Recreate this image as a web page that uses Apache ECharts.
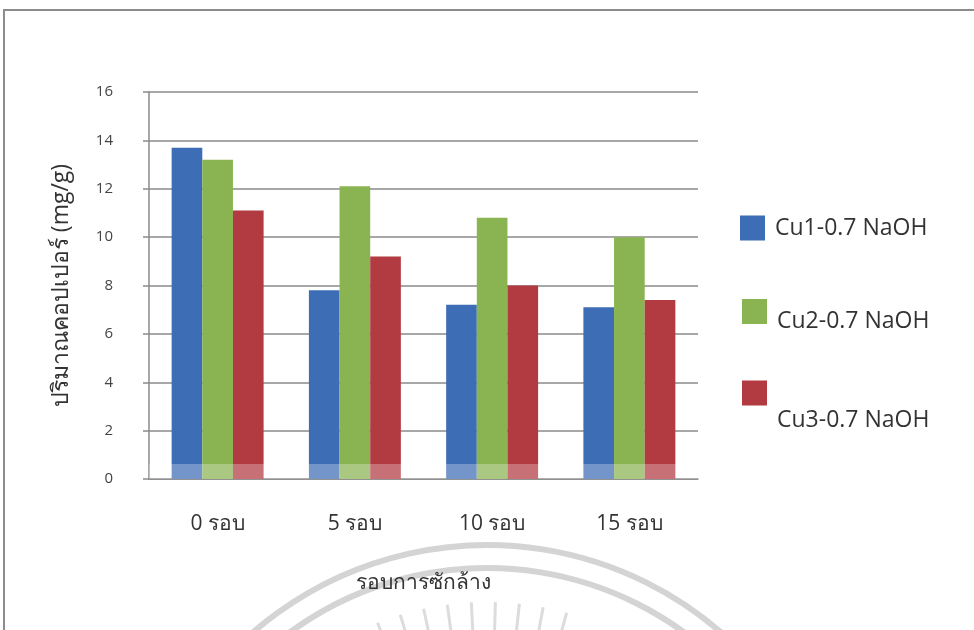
<!DOCTYPE html>
<html>
<head>
<meta charset="utf-8">
<style>
  html, body { margin: 0; padding: 0; background: #ffffff; }
  #chart { width: 974px; height: 630px; }
</style>
<script src="https://cdn.jsdelivr.net/npm/echarts@6/dist/echarts.min.js"></script>
</head>
<body>
<div id="chart"></div>
<script>
// Copper content after repeated washing cycles
const categories = ['0 รอบ', '5 รอบ', '10 รอบ', '15 รอบ'];
const seriesNames = ['Cu1-0.7 NaOH', 'Cu2-0.7 NaOH', 'Cu3-0.7 NaOH'];
const cu1Values = [13.7, 7.8, 7.2, 7.1];
const cu2Values = [13.2, 12.1, 10.8, 10.0];
const cu3Values = [11.1, 9.2, 8.0, 7.4];
const yTicks = { min: 0, max: 16, step: 2 };

const colors = ['#3d6db4', '#8ab351', '#b23a41'];
const valueSets = [cu1Values, cu2Values, cu3Values];

const chart = echarts.init(document.getElementById('chart'), null, { renderer: 'canvas' });

const fontFamily = '"Open Sans", "Noto Sans", "DejaVu Sans", sans-serif';

// Light band along the base of the bars
const baseBand = {
  silent: true,
  z: 10,
  itemStyle: { color: 'rgba(255,255,255,0.28)' },
  data: [[{ yAxis: 0 }, { yAxis: 0.62 }]]
};

const series = seriesNames.map((name, i) => ({
  name: name,
  type: 'bar',
  data: valueSets[i],
  barGap: '0%',
  barCategoryGap: '33%',
  itemStyle: { color: colors[i] },
  markArea: i === 2 ? baseBand : undefined
}));

// Watermark emblem: two concentric arcs and short rays
const cx = 487, cy = 902;
const emblem = [
  { type: 'arc', shape: { cx: cx, cy: cy, r: 357, startAngle: Math.PI * 1.05, endAngle: Math.PI * 1.95 },
    style: { stroke: '#d4d4d4', lineWidth: 6, fill: null }, silent: true, z: -1 },
  { type: 'arc', shape: { cx: cx, cy: cy, r: 334, startAngle: Math.PI * 1.05, endAngle: Math.PI * 1.95 },
    style: { stroke: '#d4d4d4', lineWidth: 6, fill: null }, silent: true, z: -1 }
];
for (let a = -26; a <= 16; a += 4.6) {
  const t = (a - 90) * Math.PI / 180;
  emblem.push({
    type: 'line',
    shape: { x1: cx + 262 * Math.cos(t), y1: cy + 262 * Math.sin(t), x2: cx + 300 * Math.cos(t), y2: cy + 300 * Math.sin(t) },
    style: { stroke: '#dcdcdc', lineWidth: 3 },
    silent: true, z: -1
  });
}

// Each legend entry is its own block; the label sits below its swatch by
// a blank first line whose height sets the drop.
function legendEntry(idx, left, top, drop) {
  return {
    orient: 'vertical',
    data: [seriesNames[idx]],
    left: left,
    top: top,
    itemWidth: 25,
    itemHeight: 25,
    icon: 'rect',
    selectedMode: false,
    formatter: drop > 0 ? (n) => '\n' + n : (n) => n,
    textStyle: {
      fontSize: 23,
      color: '#333333',
      fontFamily: fontFamily,
      lineHeight: drop > 0 ? drop * 2 : 28,
      padding: [0, 0, 0, 5]
    }
  };
}

chart.setOption({
  backgroundColor: '#ffffff',
  animation: false,
  color: colors,
  grid: { left: 149, right: 276, top: 92, bottom: 151, containLabel: false },
  legend: [
    legendEntry(0, 735, 209, 0),
    legendEntry(1, 737, 285, 10),
    legendEntry(2, 737, 334, 27)
  ],
  xAxis: {
    type: 'category',
    data: categories,
    name: 'รอบการซักล้าง',
    nameLocation: 'middle',
    nameGap: 94,
    nameTextStyle: { fontSize: 21, color: '#333333', fontFamily: fontFamily },
    axisLine: { show: true, lineStyle: { color: '#8a8a8a', width: 1.5 } },
    axisTick: { show: false },
    axisLabel: { margin: 35, fontSize: 21, color: '#333333', fontFamily: fontFamily }
  },
  yAxis: {
    type: 'value',
    min: yTicks.min,
    max: yTicks.max,
    interval: yTicks.step,
    name: 'ปริมาณคอปเปอร์ (mg/g)',
    nameLocation: 'middle',
    nameGap: 76,
    nameRotate: 90,
    nameTextStyle: { fontSize: 23, color: '#333333', fontFamily: fontFamily },
    axisLine: { show: true, lineStyle: { color: '#8a8a8a', width: 1.5 } },
    axisTick: { show: true, length: 6, lineStyle: { color: '#8a8a8a', width: 1.5 } },
    axisLabel: { margin: 36, fontSize: 15, color: '#444444', fontFamily: fontFamily },
    splitLine: { show: true, lineStyle: { color: '#8a8a8a', width: 1.5 } }
  },
  series: series,
  graphic: [
    { type: 'rect', shape: { x: 4, y: 10, width: 1000, height: 700 },
      style: { stroke: '#8c8c8c', lineWidth: 2, fill: null }, silent: true, z: -2 }
  ].concat(emblem)
});
</script>
</body>
</html>
